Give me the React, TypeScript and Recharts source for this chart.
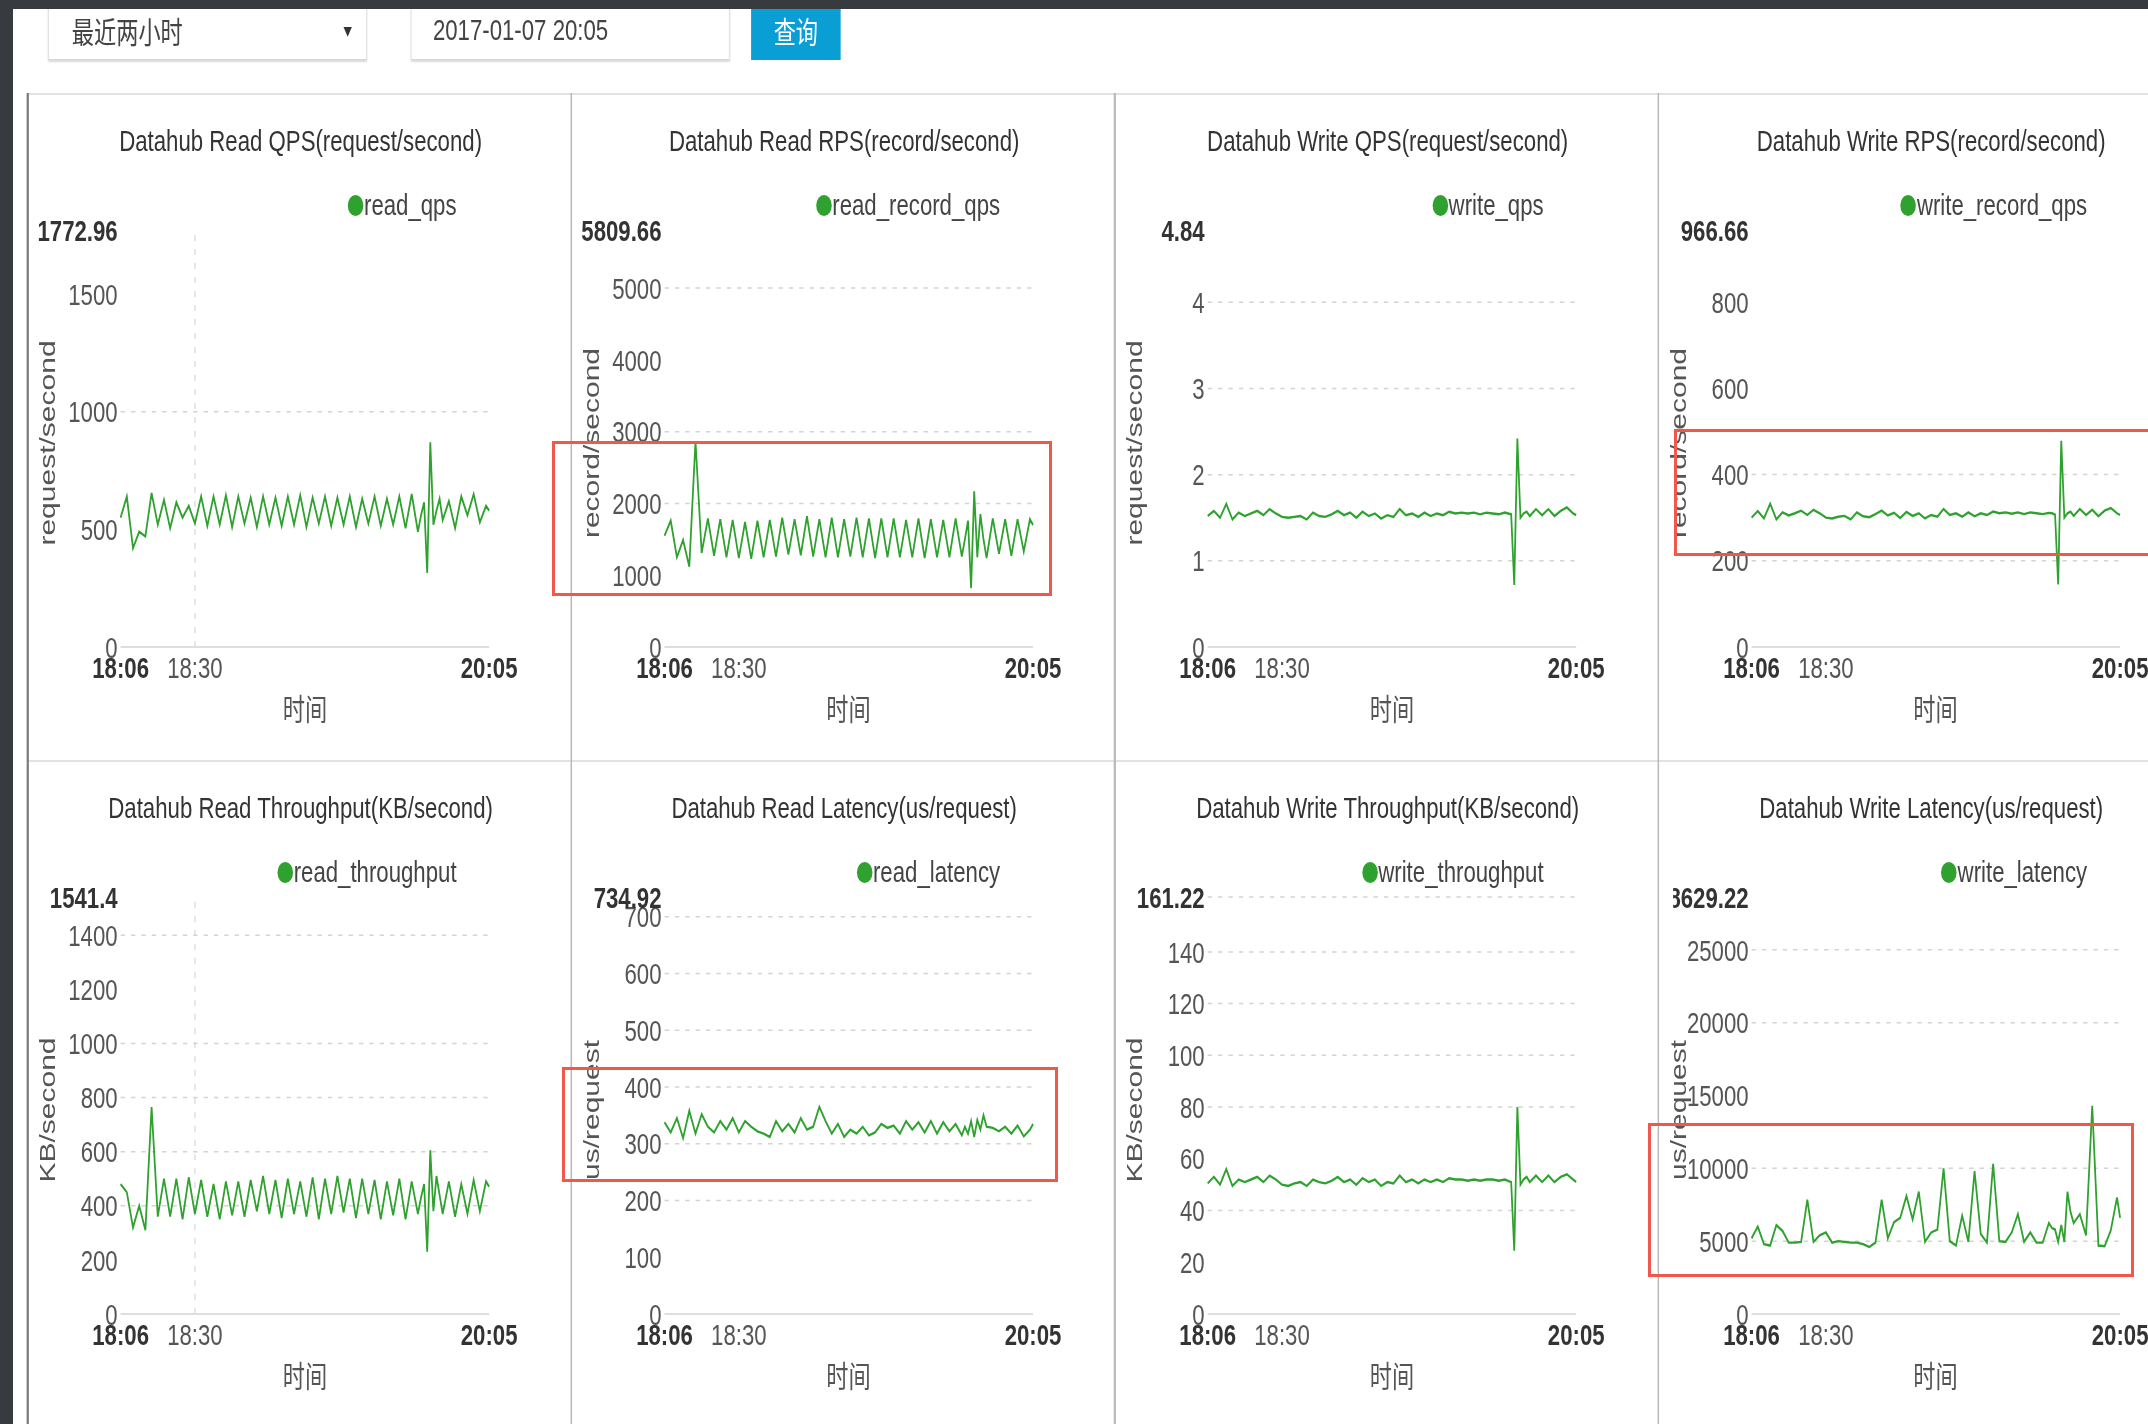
import { LineChart, Line, XAxis, YAxis, ReferenceLine } from "recharts";

// sample times (2 min steps, 1 min around the 19:45 event)
const times = [
  "18:06", "18:08", "18:10", "18:12", "18:14", "18:16", "18:18", "18:20", "18:22", "18:24",
  "18:26", "18:28", "18:30", "18:32", "18:34", "18:36", "18:38", "18:40", "18:42", "18:44",
  "18:46", "18:48", "18:50", "18:52", "18:54", "18:56", "18:58", "19:00", "19:02", "19:04",
  "19:06", "19:08", "19:10", "19:12", "19:14", "19:16", "19:18", "19:20", "19:22", "19:24",
  "19:26", "19:28", "19:30", "19:32", "19:34", "19:36", "19:38", "19:40", "19:42",
  "19:43", "19:44", "19:45", "19:46", "19:47", "19:48", "19:49", "19:50",
  "19:52", "19:54", "19:56", "19:58", "20:00", "20:02", "20:04", "20:05",
];

const xTickLabels = ["18:06", "18:30", "20:05"];

const readQps = [
  550, 640, 420, 490, 470, 655, 520, 625, 505, 615,
  550, 600, 525, 640, 515, 640, 520, 645, 510, 640,
  525, 635, 510, 640, 520, 635, 515, 640, 520, 645,
  510, 635, 525, 640, 515, 635, 520, 640, 510, 630,
  525, 640, 515, 630, 520, 640, 505, 650, 490,
  560, 615, 315, 870, 520, 580, 630, 540,
  620, 505, 640, 560, 650, 530, 600, 580,
];

const readRecordQps = [
  1550, 1760, 1250, 1490, 1120, 2870, 1310, 1790, 1270, 1780,
  1250, 1770, 1240, 1740, 1230, 1760, 1250, 1770, 1260, 1800,
  1290, 1780, 1280, 1820, 1260, 1780, 1250, 1800, 1250, 1780,
  1260, 1800, 1250, 1790, 1240, 1790, 1250, 1790, 1250, 1770,
  1250, 1790, 1240, 1780, 1250, 1770, 1250, 1790, 1260,
  1500, 1760, 820, 2170, 1250, 1850, 1500, 1240,
  1790, 1300, 1780, 1270, 1780, 1330, 1780, 1700,
];

const writeQps = [
  1.52, 1.58, 1.5, 1.66, 1.48, 1.56, 1.52, 1.55, 1.58, 1.53,
  1.6, 1.55, 1.51, 1.5, 1.51, 1.52, 1.48, 1.56, 1.52, 1.51,
  1.54, 1.58, 1.53, 1.56, 1.5, 1.57, 1.52, 1.55, 1.49, 1.53,
  1.51, 1.6, 1.53, 1.55, 1.51, 1.56, 1.52, 1.55, 1.53, 1.57,
  1.55, 1.56, 1.55, 1.56, 1.54, 1.56, 1.55, 1.54, 1.56,
  1.55, 1.54, 0.72, 2.42, 1.5, 1.55, 1.57, 1.52,
  1.6, 1.53, 1.6, 1.52, 1.58, 1.62, 1.55, 1.53,
];

const writeRecordQps = [
  300, 315, 298, 332, 296, 312, 305, 310, 316, 306,
  318, 310, 300, 298, 302, 304, 296, 312, 303, 301,
  308, 316, 305, 311, 299, 313, 304, 310, 298, 306,
  302, 320, 306, 310, 302, 312, 303, 310, 306, 314,
  310, 312, 309, 312, 308, 312, 310, 308, 311,
  310, 307, 145, 478, 300, 310, 314, 304,
  320, 306, 318, 303, 316, 322, 310, 306,
];

const readThroughput = [
  480, 450, 320, 400, 310, 765, 360, 500, 360, 500,
  350, 505, 370, 495, 360, 480, 350, 490, 365, 490,
  360, 495, 380, 510, 370, 495, 355, 500, 370, 490,
  360, 505, 350, 500, 370, 510, 375, 500, 355, 500,
  370, 495, 350, 490, 365, 500, 350, 490, 370,
  430, 480, 230, 605, 380, 510, 440, 370,
  490, 360, 480, 370, 495, 380, 490, 470,
];

const readLatency = [
  338, 320, 345, 310, 358, 318, 352, 330, 320, 340,
  325, 345, 320, 340, 330, 322, 318, 312, 340, 322,
  335, 320, 345, 325, 330, 365, 340, 318, 335, 312,
  325, 318, 330, 315, 320, 335, 328, 332, 318, 340,
  325, 338, 320, 340, 318, 338, 322, 335, 315,
  330, 318, 340, 312, 342, 325, 350, 330,
  328, 322, 330, 318, 332, 313, 325, 335,
];

const writeThroughput = [
  50.5, 53, 50, 56, 49.5, 52, 51, 52, 53, 51,
  53.5, 52, 50, 49.5, 50.5, 51, 49.5, 52, 51, 50.5,
  51.5, 53, 51, 52, 50, 52.5, 51, 52, 49.5, 51,
  50.5, 53.5, 51, 52, 50.5, 52, 51, 52, 51, 52.5,
  52, 52, 51.5, 52, 51.5, 52, 52, 51.5, 52,
  51.5, 51, 24.5, 80, 50, 52, 53, 51,
  53.5, 51, 53.5, 51, 53, 54, 52, 51,
];

const writeLatency = [
  5200, 6000, 4800, 4700, 6100, 5700, 4900, 4900, 4950, 7850,
  4950, 5400, 5600, 4900, 5000, 4950, 4900, 4900, 4800, 4600,
  4900, 7850, 5200, 6300, 6600, 8100, 6500, 8400, 4950, 5600,
  5800, 10000, 5000, 4700, 6750, 4950, 9800, 5500, 4900, 10300,
  5000, 4950, 5600, 6850, 4950, 5600, 4900, 4900, 6250,
  5900, 5800, 4950, 6100, 4950, 8400, 7000, 6250,
  6850, 5400, 14300, 4700, 4650, 5750, 8000, 6600,
];

const readQpsTicks = [0, 500, 1000, 1500, 1772.96];
const readRecordTicks = [0, 1000, 2000, 3000, 4000, 5000, 5809.66];
const writeQpsTicks = [0, 1, 2, 3, 4, 4.84];
const writeRecordTicks = [0, 200, 400, 600, 800, 966.66];
const readThroughputTicks = [0, 200, 400, 600, 800, 1000, 1200, 1400, 1541.4];
const readLatencyTicks = [0, 100, 200, 300, 400, 500, 600, 700, 734.92];
const writeThroughputTicks = [0, 20, 40, 60, 80, 100, 120, 140, 161.22];
const writeLatencyTicks = [0, 5000, 10000, 15000, 20000, 25000, 28629.22];

// the screenshot is squeezed horizontally, so everything is laid out wide and scaled
const SQUISH = 0.74;
const PAGE_W = 2148;
const PAGE_H = 1424;
const INNER_W = PAGE_W / SQUISH;
const PANEL_W = 734.5;
const PANEL_H = 666;
const PANEL_X0 = 37;
const ROW_Y = [93, 760];
const PLOT_L = 126;
const PLOT_R = 624;
const PLOT_T = 137;
const PLOT_B = 554;
const Y_AXIS_W = 100;
const X_AXIS_H = 40;
const CLIP = 12;

const GREEN = "#2ea12e";
const FONT = '"Liberation Sans", Arial, "Noto Sans CJK SC", sans-serif';
const CJK = '"Noto Sans CJK SC", "Liberation Sans", sans-serif';

function toMinute(s: string): number {
  const [h, m] = s.split(":").map(Number);
  return h * 60 + m - (18 * 60 + 6);
}

const xTicks = xTickLabels.map(toMinute);
const X_MAX = xTicks[xTicks.length - 1];

interface PanelCfg {
  title: string;
  series: string;
  yName: string;
  values: number[];
  yTicks: number[];
  grid: number[];
  vGrid: number[];
  clip?: number;
}

const panels: PanelCfg[] = [
  { title: "Datahub Read QPS(request/second)", series: "read_qps", yName: "request/second", values: readQps, yTicks: readQpsTicks, grid: [1000], vGrid: [24] },
  { title: "Datahub Read RPS(record/second)", series: "read_record_qps", yName: "record/second", values: readRecordQps, yTicks: readRecordTicks, grid: [2000, 3000, 5000], vGrid: [] },
  { title: "Datahub Write QPS(request/second)", series: "write_qps", yName: "request/second", values: writeQps, yTicks: writeQpsTicks, grid: [1, 2, 3, 4], vGrid: [] },
  { title: "Datahub Write RPS(record/second)", series: "write_record_qps", yName: "record/second", values: writeRecordQps, yTicks: writeRecordTicks, grid: [200, 400], vGrid: [] },
  { title: "Datahub Read Throughput(KB/second)", series: "read_throughput", yName: "KB/second", values: readThroughput, yTicks: readThroughputTicks, grid: [400, 600, 800, 1000, 1400], vGrid: [24] },
  { title: "Datahub Read Latency(us/request)", series: "read_latency", yName: "us/request", values: readLatency, yTicks: readLatencyTicks, grid: [200, 300, 400, 500, 600, 700], vGrid: [] },
  { title: "Datahub Write Throughput(KB/second)", series: "write_throughput", yName: "KB/second", values: writeThroughput, yTicks: writeThroughputTicks, grid: [40, 80, 100, 120, 140, 161.22], vGrid: [] },
  { title: "Datahub Write Latency(us/request)", series: "write_latency", yName: "us/request", values: writeLatency, yTicks: writeLatencyTicks, grid: [5000, 10000, 20000, 25000], vGrid: [], clip: 20 },
];

function YTick(props: any) {
  const { x, y, payload, max } = props;
  const isMax = payload.value === max;
  return (
    <text
      x={x - 4}
      y={y}
      dy="0.355em"
      textAnchor="end"
      fontFamily={FONT}
      fontSize={30}
      fontWeight={isMax ? "bold" : "normal"}
      fill={isMax ? "#333" : "#555"}
    >
      {String(payload.value)}
    </text>
  );
}

function XTick(props: any) {
  const { x, y, payload } = props;
  const idx = xTicks.indexOf(payload.value);
  const edge = idx === 0 || idx === xTicks.length - 1;
  return (
    <text
      x={x}
      y={y + 20}
      dy="0.355em"
      textAnchor="middle"
      fontFamily={FONT}
      fontSize={30}
      fontWeight={edge ? "bold" : "normal"}
      fill={edge ? "#333" : "#555"}
    >
      {xTickLabels[idx]}
    </text>
  );
}

function Panel({ cfg, left, top }: { cfg: PanelCfg; left: number; top: number }) {
  const data = times.map((s, i) => ({ t: toMinute(s), v: cfg.values[i] }));
  const max = cfg.yTicks[cfg.yTicks.length - 1];
  const clip = cfg.clip ?? CLIP;
  return (
    <div style={{ position: "absolute", left, top, width: PANEL_W, height: PANEL_H }}>
      <div style={{ position: "absolute", left: clip, top: 0, width: PANEL_W - clip, height: PANEL_H, overflow: "hidden" }}>
        <div style={{ position: "absolute", left: -clip, top: 0 }}>
          <LineChart
            width={PANEL_W}
            height={PANEL_H}
            data={data}
            margin={{ top: PLOT_T, right: PANEL_W - PLOT_R, bottom: PANEL_H - PLOT_B - X_AXIS_H, left: PLOT_L - Y_AXIS_W }}
          >
            <XAxis
              type="number"
              dataKey="t"
              domain={[0, X_MAX]}
              ticks={xTicks}
              interval={0}
              height={X_AXIS_H}
              tickSize={0}
              tickMargin={0}
              tickLine={false}
              axisLine={{ stroke: "#dedede", strokeWidth: 2 }}
              tick={(p: any) => <XTick {...p} />}
            />
            <YAxis
              type="number"
              domain={[0, max]}
              ticks={cfg.yTicks}
              interval={0}
              width={Y_AXIS_W}
              tickSize={0}
              tickMargin={0}
              tickLine={false}
              axisLine={false}
              tick={(p: any) => <YTick {...p} max={max} />}
            />
            {cfg.grid.map((g) => (
              <ReferenceLine key={"h" + g} y={g} stroke="#d4d4d4" strokeWidth={1.5} strokeDasharray="6 8" />
            ))}
            {cfg.vGrid.map((g) => (
              <ReferenceLine key={"v" + g} x={g} stroke="#d4d4d4" strokeWidth={1.5} strokeDasharray="6 8" />
            ))}
            <Line
              type="linear"
              dataKey="v"
              stroke={GREEN}
              strokeWidth={2.4}
              dot={false}
              activeDot={false}
              isAnimationActive={false}
            />
          </LineChart>
        </div>
      </div>
      <div
        style={{
          position: "absolute",
          left: 2,
          top: 48 - 20,
          width: PANEL_W,
          height: 40,
          lineHeight: "40px",
          textAlign: "center",
          fontSize: 30,
          color: "#333",
          whiteSpace: "nowrap",
        }}
      >
        {cfg.title}
      </div>
      <div
        style={{
          position: "absolute",
          right: PANEL_W - 580,
          top: 112 - 20,
          height: 40,
          display: "flex",
          alignItems: "center",
          fontSize: 30,
          color: "#444",
          whiteSpace: "nowrap",
        }}
      >
        <span style={{ display: "inline-block", width: 21, height: 21, borderRadius: "50%", background: GREEN, marginRight: 1 }} />
        <span>{cfg.series}</span>
      </div>
      <div
        style={{
          position: "absolute",
          left: 27,
          top: 350,
          transform: "translate(-50%, -50%) rotate(-90deg)",
          fontSize: 30,
          color: "#555",
          whiteSpace: "nowrap",
        }}
      >
        {cfg.yName}
      </div>
      <div
        style={{
          position: "absolute",
          left: (PLOT_L + PLOT_R) / 2,
          top: 614,
          transform: "translate(-50%, -50%)",
          fontSize: 30,
          fontFamily: CJK,
          color: "#555",
          whiteSpace: "nowrap",
        }}
      >
        时间
      </div>
    </div>
  );
}

export default function App() {
  const boxStyle = {
    position: "absolute" as const,
    top: 0,
    height: 60,
    width: 431,
    boxSizing: "border-box" as const,
    border: "1px solid #d8d8d8",
    boxShadow: "0 2px 2px rgba(0,0,0,0.15)",
    background: "#fff",
    fontSize: 30,
    color: "#444",
    display: "flex",
    alignItems: "center",
  };
  return (
    <div
      style={{
        position: "absolute",
        left: 0,
        top: 0,
        width: PAGE_W,
        height: PAGE_H,
        overflow: "hidden",
        background: "#fff",
        fontFamily: FONT,
      }}
    >
      <div
        style={{
          position: "absolute",
          left: 0,
          top: 0,
          width: INNER_W,
          height: PAGE_H,
          transform: `scaleX(${SQUISH})`,
          transformOrigin: "0 0",
        }}
      >
        {/* query bar */}
        <div style={{ ...boxStyle, left: 65, paddingLeft: 31, fontFamily: CJK }}>
          最近两小时
          <span style={{ position: "absolute", left: 398, fontSize: 12, color: "#333" }}>▼</span>
        </div>
        <div style={{ ...boxStyle, left: 555, paddingLeft: 29 }}>2017-01-07 20:05</div>
        <div
          style={{
            position: "absolute",
            left: 1015,
            top: 0,
            width: 121,
            height: 60,
            background: "#0a9fd4",
            color: "#fff",
            fontSize: 30,
            fontFamily: CJK,
            display: "flex",
            alignItems: "center",
            justifyContent: "center",
          }}
        >
          查询
        </div>

        {/* panel frame */}
        {ROW_Y.map((y) => (
          <div key={"r" + y} style={{ position: "absolute", left: PANEL_X0, top: y, width: INNER_W, height: 2, background: "#e2e2e2" }} />
        ))}
        {[0, 1, 2, 3].map((c) => (
          <div
            key={"c" + c}
            style={{
              position: "absolute",
              left: PANEL_X0 + c * PANEL_W - 1,
              top: ROW_Y[0],
              width: 2.5,
              height: PAGE_H - ROW_Y[0],
              background: c === 0 ? "#7a7a7a" : "#b8b8b8",
            }}
          />
        ))}

        {panels.map((cfg, i) => (
          <Panel key={cfg.series} cfg={cfg} left={PANEL_X0 + (i % 4) * PANEL_W} top={ROW_Y[Math.floor(i / 4)]} />
        ))}
      </div>

      {/* page chrome */}
      <div style={{ position: "absolute", left: 0, top: 0, width: PAGE_W, height: 9, background: "#373b3f" }} />
      <div style={{ position: "absolute", left: 0, top: 0, width: 13, height: PAGE_H, background: "#373b3f" }} />

      {/* red highlight boxes */}
      <div style={{ position: "absolute", left: 552, top: 441, width: 500, height: 155, border: "3px solid #f2574c", boxSizing: "border-box" }} />
      <div style={{ position: "absolute", left: 1674, top: 429, width: 500, height: 127, border: "3px solid #f2574c", boxSizing: "border-box" }} />
      <div style={{ position: "absolute", left: 562, top: 1067, width: 496, height: 115, border: "3px solid #f2574c", boxSizing: "border-box" }} />
      <div style={{ position: "absolute", left: 1648, top: 1123, width: 486, height: 154, border: "3px solid #f2574c", boxSizing: "border-box" }} />
    </div>
  );
}
